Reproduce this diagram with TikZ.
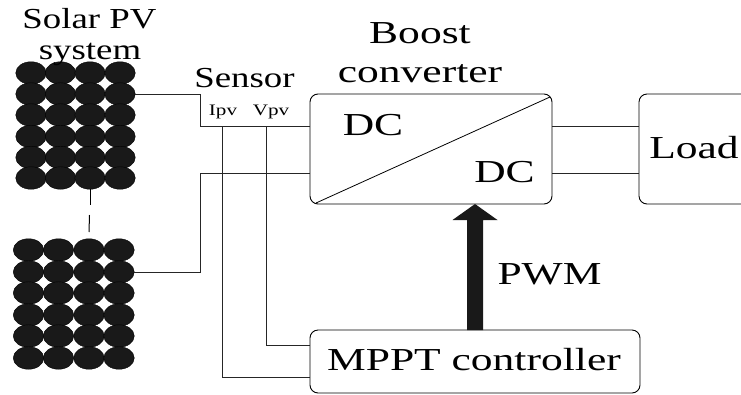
\documentclass[tikz,border=0pt]{standalone}
\usepackage{fontspec}
\setmainfont{Liberation Serif}
\newfontfamily\wideserif[FakeStretch=1.36]{Liberation Serif}
\newfontfamily\midserif[FakeStretch=1.27]{Liberation Serif}
\newfontfamily\smallserif[FakeStretch=1.32]{Liberation Serif}
\usetikzlibrary{shapes.geometric}
\tikzset{
  cell/.style={ellipse,fill=black!90,draw=black,line width=0.4pt,minimum width=30.5pt,minimum height=22.5pt,inner sep=0pt},
  blockbox/.style={draw=black,line width=0.9pt,rounded corners=8pt},
  wire/.style={draw=black!85,line width=1pt},
  bigtext/.style={font=\wideserif\fontsize{32}{32}\selectfont,anchor=base,inner sep=0pt,text=black},
  midtext/.style={font=\midserif\fontsize{29}{29}\selectfont,anchor=base,inner sep=0pt,text=black},
  smalltext/.style={font=\smallserif\fontsize{16}{16}\selectfont,anchor=base,inner sep=0pt,text=black}
}
\begin{document}
\begin{tikzpicture}[x=1pt,y=-1pt]
\useasboundingbox (0,0) rectangle (741,394);
% solar arrays
\foreach \r/\yy in {0/73,1/94,2/115,3/136.5,4/157.5,5/178}{
  \foreach \c/\xx in {0/31,1/60.5,2/90,3/120}{
    \node[cell] (t\r\c) at (\xx,\yy) {};
  }
}
\foreach \r/\yy in {0/250,1/272,2/293,3/315,4/336,5/358}{
  \foreach \c/\xx in {0/28.5,1/58.5,2/89,3/119}{
    \node[cell] (b\r\c) at (\xx,\yy) {};
  }
}
% blocks
\node[blockbox,minimum width=242pt,minimum height=110pt,inner sep=0pt] (conv) at (431,149) {};
\node[blockbox,minimum width=330pt,minimum height=63pt,inner sep=0pt] (mppt) at (475,361.5) {};
\draw[blockbox] (745,94) -- (639,94) -- (639,204) -- (745,204);
\coordinate (loadtop) at (639,126);
\coordinate (loadbot) at (639,173);
% diagonal
\coordinate (da) at (316,203);
\coordinate (db) at (550,97);
\draw[line width=0.8pt] (da) -- (db);
% wires
\coordinate (c1) at (310,126);
\coordinate (c2) at (310,173);
\coordinate (o1) at (552,126);
\coordinate (o2) at (552,173);
\coordinate (m1) at (310,345.5);
\coordinate (m2) at (310,377);
\draw[wire] (t13.east) -- (200,94) -- (200,126) -- (c1);
\draw[wire] (b13.east) -- (200,272) -- (200,173) -- (c2);
\draw[wire] (222,126) -- (222,377) -- (m2);
\draw[wire] (266,126) -- (266,345.5) -- (m1);
\draw[wire] (o1) -- (loadtop);
\draw[wire] (o2) -- (loadbot);
\draw[line width=1pt] (90,189) -- (90,205);
\draw[line width=1pt] (89.5,215) -- (89,232);
% thick arrow
\coordinate (at) at (475,204);
\fill[black!90] (467,330) -- (467,220) -- (452.5,220) -- (at) -- (497.5,220) -- (483,220) -- (483,330) -- cycle;
% text
\node[midtext] (l1) at (89.5,28) {Solar PV};
\node[midtext] (l13) at (90,59) {system};
\node[midtext] (l3) at (244.5,87) {Sensor};
\node[smalltext] (l4) at (223,115) {Ipv};
\node[smalltext] (l5) at (271,115) {Vpv};
\node[bigtext] (l6) at (420,43) {Boost};
\node[bigtext] (l7) at (420,82) {converter};
\node[bigtext] (l8) at (373,135) {DC};
\node[bigtext] (l9) at (504.5,182) {DC};
\node[bigtext] (l10) at (694,158) {Load};
\node[bigtext] (l11) at (549.5,284) {PWM};
\node[bigtext] (l12) at (474,370) {MPPT controller};
\end{tikzpicture}
\end{document}
